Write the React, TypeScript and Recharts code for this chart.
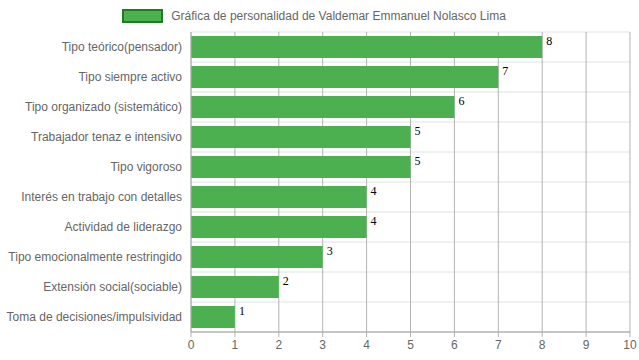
import { BarChart, Bar, XAxis, YAxis, CartesianGrid, Legend, LabelList } from 'recharts';

const categories = [
  'Tipo teórico(pensador)',
  'Tipo siempre activo',
  'Tipo organizado (sistemático)',
  'Trabajador tenaz e intensivo',
  'Tipo vigoroso',
  'Interés en trabajo con detalles',
  'Actividad de liderazgo',
  'Tipo emocionalmente restringido',
  'Extensión social(sociable)',
  'Toma de decisiones/impulsividad',
];
const values = [8, 7, 6, 5, 5, 4, 4, 3, 2, 1];
const xTicks = [0, 1, 2, 3, 4, 5, 6, 7, 8, 9, 10];
const seriesName = 'Gráfica de personalidad de Valdemar Emmanuel Nolasco Lima';

const data = categories.map((name, i) => ({ name, value: values[i] }));

const FONT = '"Liberation Sans", Arial, Helvetica, sans-serif';

const renderLegend = () => (
  <div style={{ display: 'flex', justifyContent: 'center', alignItems: 'center', height: 31, fontFamily: FONT, fontSize: 12, color: '#666' }}>
    <span
      style={{
        display: 'inline-block',
        width: 37,
        height: 10,
        background: '#4caf50',
        border: '2px solid #1e7d1e',
        marginRight: 8,
        marginLeft: -2,
        marginTop: -2,
      }}
    />
    <span style={{ marginTop: -2 }}>{seriesName}</span>
  </div>
);

const bandLines = ({ offset }: any) => {
  const n = categories.length;
  const step = offset.height / n;
  return Array.from({ length: n + 1 }, (_, i) => offset.top + i * step);
};

// single-line tick so long labels never wrap
const CategoryTick = (props: any) => {
  const { x, y, payload } = props;
  return (
    <text x={x + 5} y={y} dy={4} textAnchor="end" fill="#666" fontSize={12} fontFamily={FONT}>
      {payload.value}
    </text>
  );
};

const renderValue = (props: any) => {
  const { x, y, width, value } = props;
  return (
    <text x={x + width + 4} y={y + 9} fontFamily='"Liberation Serif", "Times New Roman", serif' fontSize={12} fill="#000">
      {value}
    </text>
  );
};

export default function App() {
  return (
    <div style={{ position: 'absolute', left: 0, top: 0, background: '#fff' }}>
      <BarChart
        width={639}
        height={360}
        data={data}
        layout="vertical"
        margin={{ top: 1, right: 9, bottom: 0, left: 0 }}
        barSize={22}
      >
        <Legend verticalAlign="top" height={31} content={renderLegend} />
        <CartesianGrid horizontal={true} vertical={false} stroke="#e2e2e2" horizontalCoordinatesGenerator={bandLines} />
        <CartesianGrid horizontal={false} vertical={true} stroke="#b3b3b3" />
        <XAxis
          type="number"
          domain={[0, 10]}
          ticks={xTicks}
          interval={0}
          height={28}
          axisLine={{ stroke: '#999' }}
          tickLine={{ stroke: '#b3b3b3' }}
          tickSize={5}
          tickMargin={3}
          tick={{ fill: '#666', fontSize: 12, fontFamily: FONT }}
        />
        <YAxis
          type="category"
          dataKey="name"
          width={191}
          axisLine={{ stroke: '#b3b3b3' }}
          tickLine={false}
          tickMargin={8}
          interval={0}
          tick={<CategoryTick />}
        />
        <Bar dataKey="value" name={seriesName} fill="#4caf50" isAnimationActive={false}>
          <LabelList dataKey="value" content={renderValue} />
        </Bar>
      </BarChart>
    </div>
  );
}
